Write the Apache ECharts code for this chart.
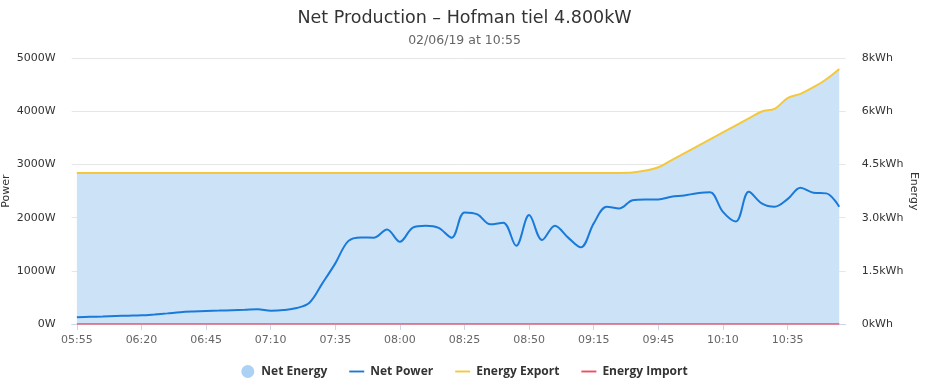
<!DOCTYPE html>
<html>
<head>
<meta charset="utf-8">
<script src="https://cdn.jsdelivr.net/npm/echarts@6/dist/echarts.min.js"></script>
<style>html,body{margin:0;padding:0;background:#fff}#c{width:929px;height:385px}</style>
</head>
<body>
<div id="c"></div>
<script>
const times = ["05:55","06:00","06:05","06:10","06:15","06:20","06:25","06:30","06:35","06:40",
"06:45","06:50","06:55","07:00","07:05","07:10","07:15","07:20","07:25","07:30",
"07:35","07:40","07:45","07:50","07:55","08:00","08:05","08:10","08:15","08:20",
"08:25","08:30","08:35","08:40","08:45","08:50","08:55","09:00","09:05","09:10",
"09:15","09:20","09:25","09:35","09:40","09:45","09:50","09:55","10:00","10:05",
"10:10","10:15","10:20","10:25","10:30","10:35","10:40","10:45","10:50","10:55"];
const netPower = [126,135,142,150,156,163,180,200,222,235,
244,252,260,268,278,251,262,300,400,765,
1141,1560,1630,1625,1780,1548,1815,1850,1810,1624,
2100,2063,1875,1906,1473,2050,1580,1850,1630,1442,
1894,2206,2175,2330,2345,2345,2395,2420,2460,2480,
2110,1930,2490,2270,2206,2350,2564,2470,2458,2206];
const energyExport = [4.55,4.55,4.55,4.55,4.55,4.55,4.55,4.55,4.55,4.55,
4.55,4.55,4.55,4.55,4.55,4.55,4.55,4.55,4.55,4.55,
4.55,4.55,4.55,4.55,4.55,4.55,4.55,4.55,4.55,4.55,
4.55,4.55,4.55,4.55,4.55,4.55,4.55,4.55,4.55,4.55,
4.55,4.55,4.55,4.56,4.62,4.72,4.93,5.14,5.35,5.56,
5.77,5.98,6.19,6.40,6.48,6.80,6.93,7.13,7.37,7.68];
const energyImport = [0,0,0,0,0,0,0,0,0,0,0,0,0,0,0,0,0,0,0,0,
0,0,0,0,0,0,0,0,0,0,0,0,0,0,0,0,0,0,0,0,
0,0,0,0,0,0,0,0,0,0,0,0,0,0,0,0,0,0,0,0];
const netEnergy = energyExport.map((e, i) => e - energyImport[i]);
const powerTicks = ["0W","1000W","2000W","3000W","4000W","5000W"];
const energyTicks = ["0kWh","1.5kWh","3.0kWh","4.5kWh","6kWh","8kWh"];
const xLabelIdx = [0,5,10,15,20,25,30,35,40,45,50,55];

const pts = arr => arr.map((v, i) => [i, v]);
const F = 'DejaVu Sans';
const lineIcon = 'path://M0,0 L16,0 L16,2 L0,2 Z';

const chart = echarts.init(document.getElementById('c'), null, {renderer: 'canvas'});
chart.setOption({
  animation: false,
  title: {
    text: 'Net Production \u2013 Hofman tiel 4.800kW',
    subtext: '02/06/19 at 10:55',
    left: 'center', top: 4, itemGap: 7,
    textStyle: {fontFamily: F, fontSize: 17.5, fontWeight: 'normal', color: '#333'},
    subtextStyle: {fontFamily: F, fontSize: 12.5, color: '#666'}
  },
  legend: {
    top: 360, left: 'center', itemGap: 22, itemWidth: 15, itemHeight: 13,
    textStyle: {fontFamily: 'Open Sans', fontSize: 12, fontWeight: 'bold', color: '#333', padding: [0, 0, 0, 1]},
    data: [
      {name: 'Net Energy', icon: 'circle'},
      {name: 'Net Power', icon: lineIcon},
      {name: 'Energy Export', icon: lineIcon},
      {name: 'Energy Import', icon: lineIcon}
    ]
  },
  grid: {left: 71.7, right: 83.3, top: 58.3, bottom: 61, containLabel: false, outerBoundsMode: 'none'},
  xAxis: {
    type: 'value', min: -0.4, max: 59.5,
    splitLine: {show: false},
    axisLine: {show: true, lineStyle: {color: '#ccd6eb'}},
    axisTick: {show: true, customValues: xLabelIdx, length: 6, lineStyle: {color: '#ccd6eb'}},
    axisLabel: {customValues: xLabelIdx, formatter: v => times[Math.round(v)], fontFamily: F, fontSize: 11, color: '#666', margin: 11}
  },
  yAxis: [
    {
      type: 'value', min: 0, max: 5000, interval: 1000,
      name: 'Power', nameLocation: 'middle', nameGap: 60, nameRotate: 90, nameMoveOverlap: false,
      nameTextStyle: {fontFamily: F, fontSize: 11, color: '#333'},
      axisLine: {show: false}, axisTick: {show: false},
      axisLabel: {formatter: v => powerTicks[Math.round(v / 1000)], fontFamily: F, fontSize: 11, color: '#333', margin: 16},
      splitLine: {lineStyle: {color: '#e6e6e6'}}
    },
    {
      type: 'value', min: 0, max: 8, interval: 1.6, position: 'right',
      name: 'Energy', nameLocation: 'middle', nameGap: 63, nameRotate: -90, nameMoveOverlap: false,
      nameTextStyle: {fontFamily: F, fontSize: 11, color: '#333'},
      axisLine: {show: false}, axisTick: {show: false},
      axisLabel: {formatter: v => energyTicks[Math.round(v / 1.6)], fontFamily: F, fontSize: 11, color: '#333', margin: 16},
      splitLine: {show: false}
    }
  ],
  series: [
    {
      name: 'Net Energy', type: 'line', yAxisIndex: 1, data: pts(netEnergy),
      smooth: 0.35, symbol: 'none', lineStyle: {width: 0},
      itemStyle: {color: '#abd1f5'},
      areaStyle: {color: '#cce3f7', opacity: 1}, z: 1
    },
    {
      name: 'Net Power', type: 'line', yAxisIndex: 0, data: pts(netPower),
      smooth: 0.35, symbol: 'none', lineStyle: {width: 2, color: '#1a7ad9'},
      itemStyle: {color: '#1a7ad9'}, z: 3
    },
    {
      name: 'Energy Export', type: 'line', yAxisIndex: 1, data: pts(energyExport),
      smooth: 0.35, symbol: 'none', lineStyle: {width: 2, color: '#f5c83c'},
      itemStyle: {color: '#f5c83c'}, z: 3
    },
    {
      name: 'Energy Import', type: 'line', yAxisIndex: 1, data: pts(energyImport),
      smooth: 0.35, symbol: 'none', lineStyle: {width: 1.5, color: '#f24d5e'},
      itemStyle: {color: '#f24d5e'}, z: 3
    }
  ]
});
</script>
</body>
</html>
